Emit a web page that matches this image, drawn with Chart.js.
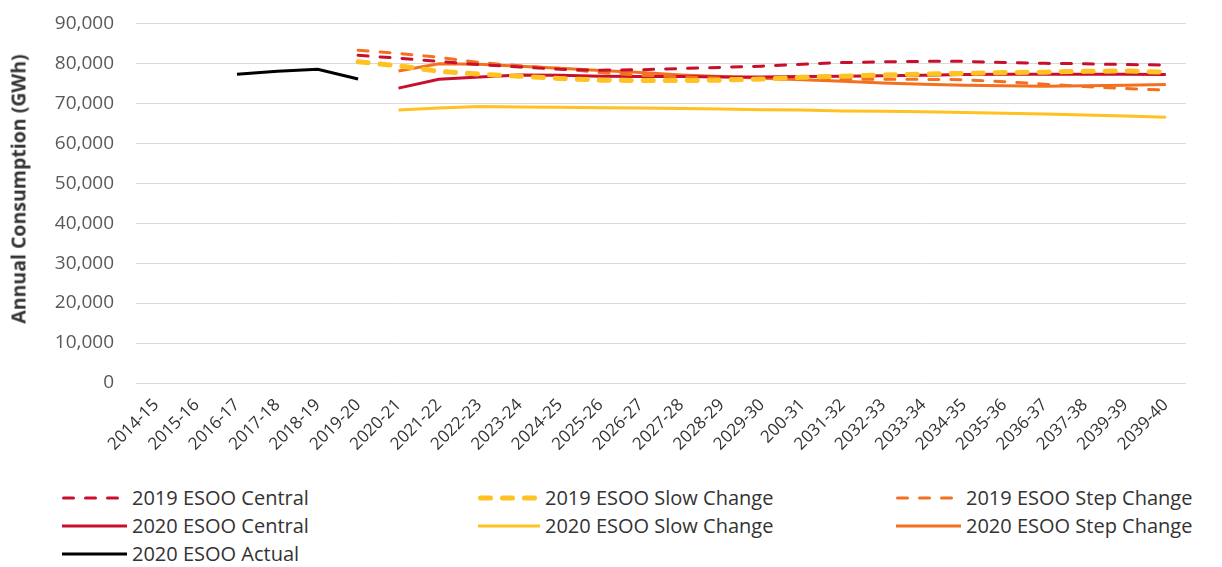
<!DOCTYPE html>
<html>
<head>
<meta charset="utf-8">
<script src="https://cdn.jsdelivr.net/npm/chart.js@4"></script>
<style>
    html, body { margin: 0; padding: 0; background: #ffffff; }
    body { width: 1222px; height: 567px; position: relative; overflow: hidden; font-family: "Open Sans", sans-serif; }
    #chartBox { position: absolute; left: 0; top: -10px; width: 1222px; height: 488px; }
    #yTitle {
        position: absolute; left: 18px; top: 189px;
        transform: translate(-50%, -50%) rotate(-90deg);
        font-size: 19.5px; font-weight: bold; color: #333333; white-space: nowrap;
    }
    #legend { position: absolute; left: 0; top: 484px; width: 1222px; }
    .item { position: absolute; display: flex; align-items: center; font-size: 20px; color: #333333; white-space: nowrap; }
    .item svg { margin-right: 5px; }
</style>
</head>
<body>
<div id="chartBox"><canvas id="chart"></canvas></div>
<div id="yTitle">Annual Consumption (GWh)</div>
<div id="legend"></div>
<script>
// === DATA ===
const years = [
    '2014-15', '2015-16', '2016-17', '2017-18', '2018-19', '2019-20', '2020-21', '2021-22', '2022-23',
    '2023-24', '2024-25', '2025-26', '2026-27', '2027-28', '2028-29', '2029-30', '200-31', '2031-32',
    '2032-33', '2033-34', '2034-35', '2035-36', '2036-37', '2037-38', '2039-39', '2039-40',
];

const central2019 = [null, null, null, null, null, 82000, 81300, 80500, 79700, 79100, 78500, 78300, 78400,
    78700, 79000, 79300, 79800, 80200, 80400, 80500, 80500, 80200, 80000, 79900, 79700, 79600];
const slow2019 = [null, null, null, null, null, 80400, 79400, 78000, 77300, 76800, 76200, 75800, 75700,
    75700, 75800, 76100, 76500, 76800, 77100, 77300, 77500, 77700, 77800, 78000, 78100, 77800];
const step2019 = [null, null, null, null, null, 83300, 82500, 81500, 80200, 79400, 78700, 77700, 77000,
    76600, 76300, 76100, 76000, 76000, 76000, 76000, 75900, 75400, 74800, 74200, 73700, 73300];
const central2020 = [null, null, null, null, null, null, 73800, 76000, 76600, 77100, 77000, 76800, 76700,
    76700, 76600, 76600, 76700, 76800, 76900, 77000, 77200, 77300, 77300, 77300, 77300, 77200];
const slow2020 = [null, null, null, null, null, null, 68300, 68800, 69200, 69100, 69000, 68900, 68800,
    68700, 68600, 68400, 68300, 68100, 68000, 67900, 67700, 67500, 67300, 67100, 66800, 66500];
const step2020 = [null, null, null, null, null, null, 78100, 79900, 79800, 79300, 78800, 78200, 77700,
    77100, 76700, 76300, 75900, 75500, 75100, 74800, 74500, 74400, 74300, 74400, 74500, 74700];
const actual2020 = [null, null, 77300, 78000, 78500, 76100, null, null, null, null, null, null, null,
    null, null, null, null, null, null, null, null, null, null, null, null, null];

const yTicks = [0, 10000, 20000, 30000, 40000, 50000, 60000, 70000, 80000, 90000];

const COLORS = {
    red:    '#C8102E',
    yellow: '#FFC222',
    orange: '#F37021',
    black:  '#000000',
    grid:   '#D9D9D9',
    text:   '#595959',
};

// === DATASETS ===
function series(label, data, color, width, dash, legendSpot) {
    return {
        label,
        data,
        borderColor:     color,
        backgroundColor: color,
        borderWidth:     width,
        borderDash:      dash,
        borderCapStyle:  dash.length ? 'round' : 'butt',
        pointRadius:     0,
        tension:         0,
        fill:            false,
        spanGaps:        false,
        legendSpot,
    };
}

const datasets = [
    series('2019 ESOO Central',      central2019, COLORS.red,    3, [10, 12], { col: 0, row: 0 }),
    series('2019 ESOO Slow Change',  slow2019,    COLORS.yellow, 5, [10, 12], { col: 1, row: 0 }),
    series('2019 ESOO Step Change',  step2019,    COLORS.orange, 3, [10, 12], { col: 2, row: 0 }),
    series('2020 ESOO Central',      central2020, COLORS.red,    3, [],       { col: 0, row: 1 }),
    series('2020 ESOO Slow Change',  slow2020,    COLORS.yellow, 3, [],       { col: 1, row: 1 }),
    series('2020 ESOO Step Change',  step2020,    COLORS.orange, 3, [],       { col: 2, row: 1 }),
    series('2020 ESOO Actual',       actual2020,  COLORS.black,  3, [],       { col: 0, row: 2 }),
];

// === CHART ===
new Chart(document.getElementById('chart').getContext('2d'), {
    type: 'line',
    data: { labels: years, datasets },
    options: {
        responsive: true,
        maintainAspectRatio: false,
        animation: false,
        layout: { padding: { top: 10, right: 36, left: 6, bottom: 0 } },
        plugins: { legend: { display: false }, tooltip: { enabled: false } },
        scales: {
            x: {
                offset: true,
                grid:   { display: false, drawTicks: false },
                border: { display: false },
                ticks: {
                    color:       '#333333',
                    font:        { family: 'Open Sans', size: 17 },
                    maxRotation: 45,
                    minRotation: 45,
                    autoSkip:    false,
                    padding:     12,
                },
                afterFit: scale => { scale.height = 95; },
            },
            y: {
                min: 0,
                max: 90000,
                afterBuildTicks: scale => { scale.ticks = yTicks.map(value => ({ value })); },
                grid:   { color: COLORS.grid, lineWidth: 1, drawTicks: false },
                border: { display: false },
                ticks: {
                    color:    COLORS.text,
                    padding:  22,
                    font:     { family: 'Open Sans', size: 19 },
                    callback: value => value.toLocaleString('en-US'),
                },
                afterFit: scale => { scale.width = 130; },
            },
        },
    },
});

// === LEGEND ===
const COL_X      = [62, 478, 896];
const COL_SAMPLE = [65, 62, 65];
const ROW_Y      = [0, 28, 56];

const legendEl = document.getElementById('legend');
datasets.forEach(ds => {
    const { col, row } = ds.legendSpot;
    const w    = COL_SAMPLE[col];
    const item = document.createElement('div');
    item.className  = 'item';
    item.style.left = COL_X[col] + 'px';
    item.style.top  = ROW_Y[row] + 'px';
    const dash = ds.borderDash.length ? `stroke-dasharray="${ds.borderDash.join(' ')}" stroke-linecap="round"` : '';
    const half = ds.borderDash.length ? ds.borderWidth / 2 : 0;
    item.innerHTML =
        `<svg width="${w}" height="10"><line x1="${half}" y1="5" x2="${w - half}" y2="5" stroke="${ds.borderColor}" stroke-width="${ds.borderWidth}" ${dash}/></svg>` +
        `<span>${ds.label}</span>`;
    legendEl.appendChild(item);
});
</script>
</body>
</html>
